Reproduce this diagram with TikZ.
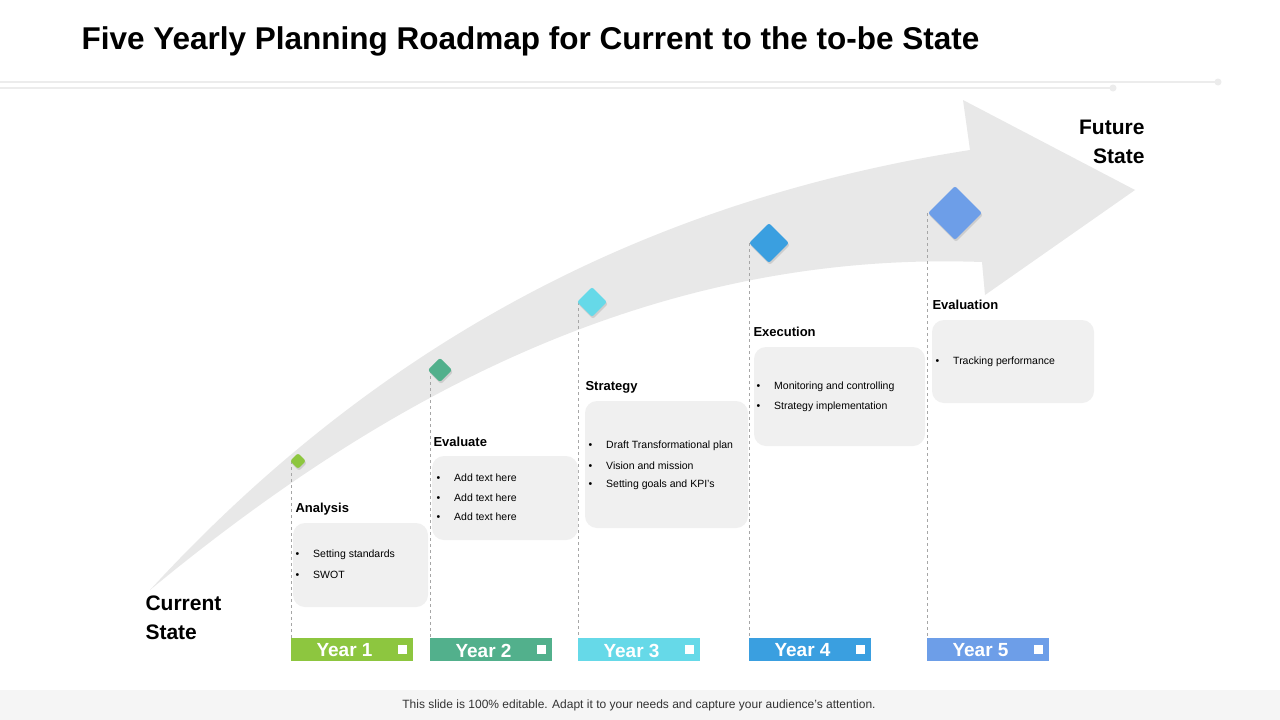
\documentclass[tikz,border=0pt]{standalone}
\usepackage{fontspec}
\setmainfont{Liberation Sans}
\usetikzlibrary{shadows}
\begin{document}
\begin{tikzpicture}[x=1pt,y=-1pt,
  hd/.style={anchor=west,font=\bfseries\fontsize{13}{15}\selectfont},
  bx/.style={fill=gray!12,rounded corners=12pt,draw=none},
  bl/.style={anchor=west,font=\fontsize{10.5}{12}\selectfont},
  yr/.style={anchor=west,text=white,font=\bfseries\fontsize{19}{21}\selectfont},
  dl/.style={dashed,gray!70,line width=0.7pt},
  dm/.style={rotate=45,rounded corners=2pt,draw=none,drop shadow={opacity=0.25,shadow xshift=1pt,shadow yshift=-2pt}}]
\useasboundingbox (0,0) rectangle (1280,720);
\fill[white] (0,0) rectangle (1280,720);
\node[anchor=west,font=\bfseries\fontsize{31.5}{34}\selectfont] (title) at (78,41) {Five Yearly Planning Roadmap for Current to the to-be State};
\draw[gray!15,line width=1.2pt] (0,82) -- (1218,82);
\fill[gray!15] (1218,82) circle (3.5);
\draw[gray!15,line width=1.2pt] (0,88) -- (1113,88);
\fill[gray!15] (1113,88) circle (3.5);
% big arrow
\fill[gray!18] (150,590) .. controls (380,340) and (650,200) .. (970,150)
  -- (963,100) -- (1135,190) -- (985,295) -- (982,262)
  .. controls (650,250) and (380,400) .. (150,590) -- cycle;
\node[anchor=west,font=\bfseries\fontsize{21}{29}\selectfont,align=left] (cur) at (142,618) {Current\\State};
\node[anchor=east,font=\bfseries\fontsize{21}{29}\selectfont,align=right] (fut) at (1148,142) {Future\\State};
% dashed lines
\foreach \x/\y in {291/461,430/370,578/302,749/243,927/213}{\draw[dl] (\x,\y) -- (\x,638);}
% diamonds
\node[dm,fill={rgb,255:red,141;green,198;blue,63},minimum size=11pt] (d1) at (298,461) {};
\node[dm,fill={rgb,255:red,82;green,176;blue,140},minimum size=17pt] (d2) at (440,370) {};
\node[dm,fill={rgb,255:red,102;green,217;blue,232},minimum size=21pt] (d3) at (592,302) {};
\node[dm,fill={rgb,255:red,58;green,159;blue,224},minimum size=28pt] (d4) at (769,243) {};
\node[dm,fill={rgb,255:red,109;green,158;blue,232},minimum size=38pt] (d5) at (955,213) {};
% boxes
\fill[bx] (293,523) rectangle (428,607);
\fill[bx] (432,456) rectangle (578,540);
\fill[bx] (585,401) rectangle (748,528);
\fill[bx] (754,347) rectangle (925,446);
\fill[bx] (932,320) rectangle (1094,403);
\node[hd] (h1) at (292,509) {Analysis};
\node[hd] (h2) at (430,442) {Evaluate};
\node[hd] (h3) at (582,387) {Strategy};
\node[hd] (h4) at (750,332) {Execution};
\node[hd] (h5) at (929,305) {Evaluation};
\foreach \x/\y/\t in {292/555/Setting standards,292/575/SWOT,
  433/478/Add text here,433/498/Add text here,433/517/Add text here,
  585/446/Draft Transformational plan,585/466/Vision and mission,585/485/Setting goals and KPI's,
  753/387/Monitoring and controlling,753/407/Strategy implementation,
  932/362/Tracking performance}
  {\node[bl] at (\x,\y) {\textbullet\hspace{14pt}\t};}
% year bars
\foreach \x/\r/\g/\b/\n in {291/141/198/63/1,430/82/176/140/2,578/102/217/232/3,749/58/159/224/4,927/109/158/232/5}{
  \fill[fill={rgb,255:red,\r;green,\g;blue,\b}] (\x,638) rectangle ++(122,23);
  \node[yr] at (\x+22,650.5) {Year \n};
  \fill[white] (\x+107,645) rectangle ++(9,9);
}
% footer
\fill[gray!8] (0,690) rectangle (1280,720);
\node[font=\fontsize{12}{14}\selectfont,text=gray!40!black] (foot) at (639,705) {This slide is 100\% editable. Adapt it to your needs and capture your audience's attention.};
\end{tikzpicture}
\end{document}
